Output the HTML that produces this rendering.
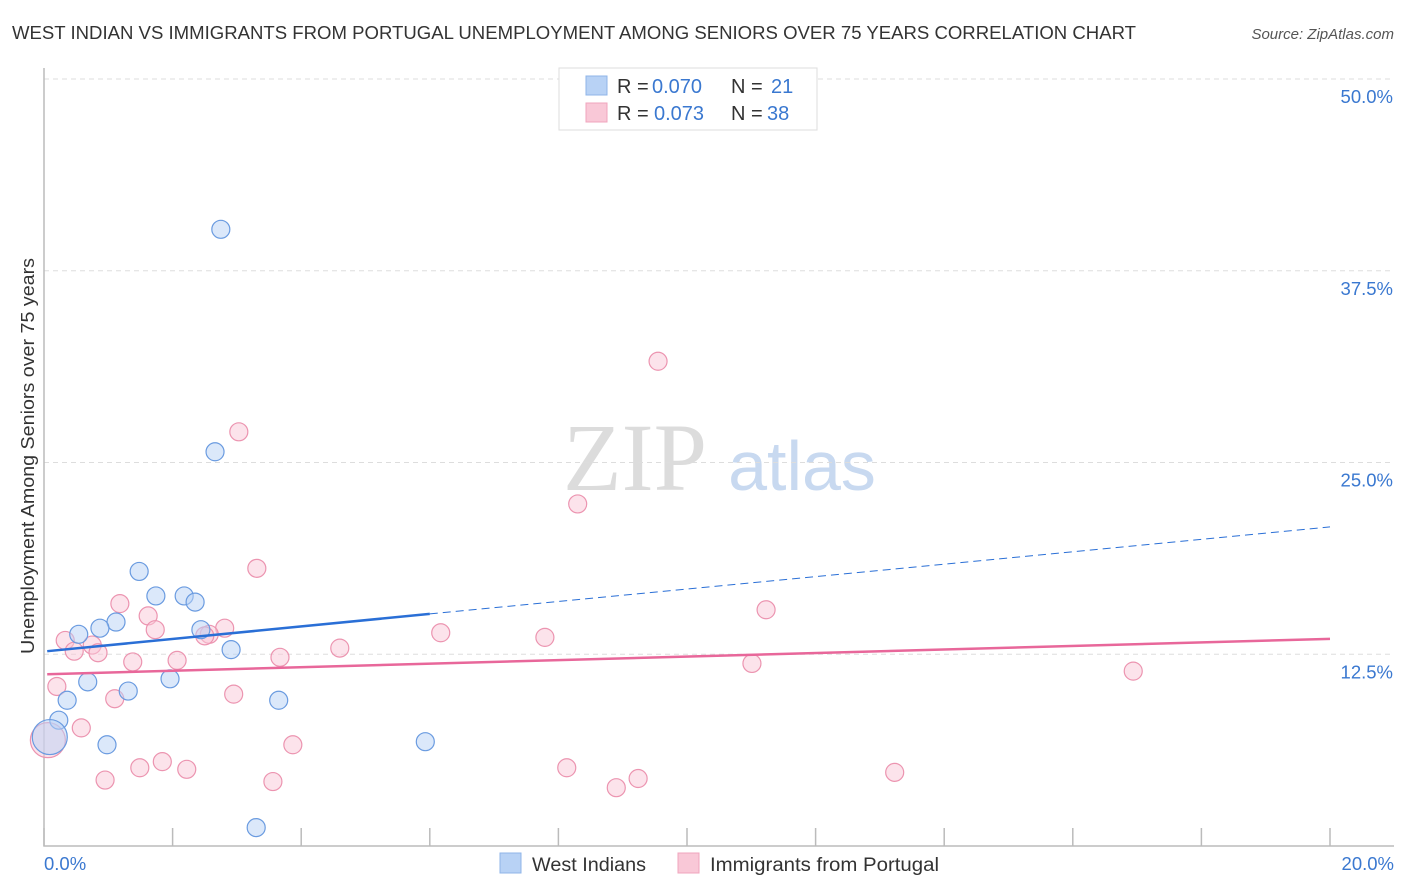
<!DOCTYPE html>
<html><head><meta charset="utf-8"><style>
body{margin:0;background:#fff;font-family:"Liberation Sans",sans-serif}
svg{display:block}
</style></head><body>
<svg id="chart" width="1406" height="892">
<text x="12" y="39" font-size="18" fill="#333" textLength="1124" lengthAdjust="spacingAndGlyphs">WEST INDIAN VS IMMIGRANTS FROM PORTUGAL UNEMPLOYMENT AMONG SENIORS OVER 75 YEARS CORRELATION CHART</text>
<text x="1394" y="39" font-size="15" fill="#555" font-style="italic" text-anchor="end">Source: ZipAtlas.com</text>
<g>
<text x="635" y="490" font-size="96" font-family="Liberation Serif,serif" fill="#dcdcdc" text-anchor="middle">ZIP</text>
<text x="802" y="490" font-size="70" fill="#c8d9f0" text-anchor="middle">atlas</text>
</g>
<text transform="translate(34,456) rotate(-90)" font-size="18" fill="#333" text-anchor="middle" textLength="396" lengthAdjust="spacingAndGlyphs">Unemployment Among Seniors over 75 years</text>
<g id="grid"></g><g id="marks"></g>
<g>
<rect x="559" y="68" width="258" height="62" fill="#fff" stroke="#ddd"/>
<rect x="586" y="76" width="21" height="19" fill="#b8d2f5" stroke="#8fb4e8"/>
<rect x="586" y="103" width="21" height="19" fill="#f9c8d7" stroke="#f0a5bd"/>
<text x="617" y="93" font-size="20" fill="#333">R = <tspan x="652" fill="#3a78d0">0.070</tspan><tspan x="731">N = </tspan><tspan x="771" fill="#3a78d0">21</tspan></text>
<text x="617" y="120" font-size="20" fill="#333">R = <tspan x="654" fill="#3a78d0">0.073</tspan><tspan x="731">N = </tspan><tspan x="767" fill="#3a78d0">38</tspan></text>
</g>
<g>
<rect x="500" y="853" width="21" height="20" fill="#b8d2f5" stroke="#8fb4e8"/>
<text x="532" y="871" font-size="19" fill="#333" textLength="114" lengthAdjust="spacingAndGlyphs">West Indians</text>
<rect x="678" y="853" width="21" height="20" fill="#f9c8d7" stroke="#f0a5bd"/>
<text x="710" y="871" font-size="19" fill="#333" textLength="229" lengthAdjust="spacingAndGlyphs">Immigrants from Portugal</text>
</g>
</svg>
<script>
const yTicks=[12.5,25,37.5,50];
const yTickLabels=["12.5%","25.0%","37.5%","50.0%"];
const xTickLabels=["0.0%","20.0%"];
const wiX=[2.75,2.66,1.48,1.74,2.18,2.35,1.12,0.87,0.54,2.44,2.91,0.68,1.96,1.31,0.36,3.65,0.23,0.09,0.98,5.93,3.30];
const wiY=[40.2,25.7,17.9,16.3,16.3,15.9,14.6,14.2,13.8,14.1,12.8,10.7,10.9,10.1,9.5,9.5,8.2,7.1,6.6,6.8,1.2];
const ptX=[9.55,3.03,8.30,3.31,11.23,1.18,1.62,1.73,2.81,2.57,2.50,0.33,0.75,0.47,0.84,6.17,7.79,4.60,2.07,1.38,3.67,11.01,16.94,0.20,1.10,2.95,0.58,3.87,0.06,1.84,1.49,2.22,8.13,13.23,0.95,3.56,8.90,9.24];
const ptY=[31.6,27.0,22.3,18.1,15.4,15.8,15.0,14.1,14.2,13.8,13.7,13.4,13.1,12.7,12.6,13.9,13.6,12.9,12.1,12.0,12.3,11.9,11.4,10.4,9.6,9.9,7.7,6.6,6.9,5.5,5.1,5.0,5.1,4.8,4.3,4.2,3.8,4.4];
const wiTrend=[12.7,20.8];
const ptTrend=[11.2,13.5];
const NS="http://www.w3.org/2000/svg";
const X=v=>44+v/20*1286, Y=v=>846-v/50*767;
const grid=document.getElementById('grid'), marks=document.getElementById('marks');
function mk(tag,attrs,parent){const e=document.createElementNS(NS,tag);for(const k in attrs)e.setAttribute(k,attrs[k]);parent.appendChild(e);return e;}
yTicks.forEach((t,i)=>{
 const l=mk('line',{x1:44,x2:1394,y1:Y(t),y2:Y(t),stroke:'#ddd','stroke-dasharray':'5,4'},grid);
 
 
 const tx=mk('text',{x:1393,y:Y(t)+24,'font-size':18.5,fill:'#3a78d0','text-anchor':'end'},grid);
 tx.textContent=yTickLabels[i];
 
 
});
const ax=mk('path',{d:'M44,68 V846 H1394',fill:'none',stroke:'#bbb','stroke-width':1.5},grid);


for(let i=0;i<=10;i++){
 const t=mk('line',{x1:X(i*2),x2:X(i*2),y1:828,y2:846,stroke:'#bbb','stroke-width':1.5},grid);
 
 
}
xTickLabels.forEach((s,i)=>{
 const tx=mk('text',{x:i?1394:44,y:870,'font-size':18.5,fill:'#3a78d0','text-anchor':i?'end':'start'},grid);
 tx.textContent=s;
 
 
});
function pts(xs,ys,fill,stroke,name){
 xs.forEach((x,i)=>{
  const big=x<0.12;
  const c=mk('circle',{cx:X(x),cy:Y(ys[i]),r:big?17.5:9,fill:fill,'fill-opacity':0.5,stroke:stroke,'stroke-width':1.2},marks);
  
  
 });
}
pts(ptX,ptY,'#f9c8d7','#ec94b0','portugal-point');
pts(wiX,wiY,'#b8d2f5','#6a9be0','west-indian-point');
const mid=6.0, wm=wiTrend[0]+(wiTrend[1]-wiTrend[0])*mid/20;
const l1=mk('line',{x1:X(0.05),y1:Y(wiTrend[0]),x2:X(mid),y2:Y(wm),stroke:'#2a6fd6','stroke-width':2.5},marks);


const l2=mk('line',{x1:X(mid),y1:Y(wm),x2:X(20),y2:Y(wiTrend[1]),stroke:'#2a6fd6','stroke-width':1,'stroke-dasharray':'8,5'},marks);


const l3=mk('line',{x1:X(0.05),y1:Y(ptTrend[0]),x2:X(20),y2:Y(ptTrend[1]),stroke:'#e8679a','stroke-width':2.5},marks);


</script>
</body></html>
